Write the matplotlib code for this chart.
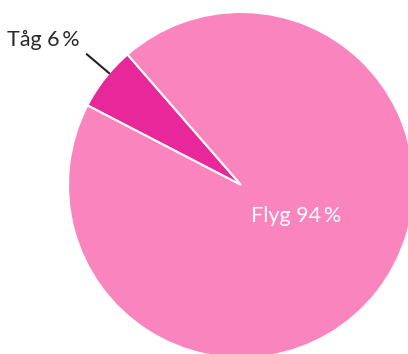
import numpy as np
import matplotlib
matplotlib.use('Agg')
import matplotlib.pyplot as plt

plt.rcParams['font.family'] = ['Lato', 'DejaVu Sans']

labels = ['Tåg', 'Flyg']
shares = [6, 94]
colors = ['#e8289a', '#f984be']

W, H = 408, 354
cx, cy, R = 241, H - 185, 173

fig = plt.figure(figsize=(W / 100, H / 100), dpi=100)
ax = fig.add_axes([0, 0, 1, 1])

wedges, _ = ax.pie(shares, colors=colors, startangle=131, counterclock=True,
                   center=(cx, cy), radius=R, frame=True,
                   wedgeprops=dict(edgecolor='white', linewidth=1.5))
ax.set_xlim(0, W)
ax.set_ylim(0, H)
ax.set_aspect('equal')
ax.axis('off')

# Tåg: outside label with leader line
a = np.deg2rad(139.7)
ax.plot([cx + R * np.cos(a), cx + 202 * np.cos(a)],
        [cy + R * np.sin(a), cy + 202 * np.sin(a)], color='#222222', lw=1.5)
ax.text(80, H - 40, f'{labels[0]} {shares[0]}\u2009%', ha='right', va='center',
        fontsize=15.5, color='#2a2a2a')

# Flyg: inside label
ax.text(296, H - 216, f'{labels[1]} {shares[1]}\u2009%', ha='center', va='center',
        fontsize=15.5, color='white')

fig.savefig('out.png', dpi=100)
